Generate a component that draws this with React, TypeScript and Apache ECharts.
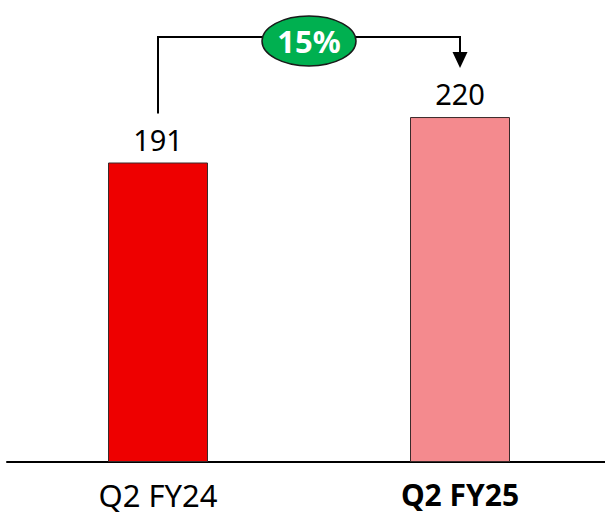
import React, { useEffect, useRef } from "react";
import * as echarts from "echarts";

const categories = ["Q2 FY24", "Q2 FY25"];
const values = [191, 220];
const growthLabel = "15%";

const FONT = "'Noto Sans', 'Open Sans', sans-serif";

export default function App() {
  const ref = useRef<HTMLDivElement>(null);
  useEffect(() => {
    if (!ref.current) return;
    const chart = echarts.init(ref.current, null, { renderer: "svg" });
    const axisText = { color: "#000", fontSize: 31, fontFamily: FONT };
    chart.setOption({
      animation: false,
      grid: { left: 7, width: 604, top: 70, bottom: 54, containLabel: false, outerBoundsMode: "none" },
      xAxis: {
        type: "category",
        data: [
          { value: categories[0], textStyle: { ...axisText, fontWeight: "normal" } },
          { value: categories[1], textStyle: { ...axisText, fontSize: 30, fontWeight: "bold" } },
        ],
        axisLine: { lineStyle: { color: "#000", width: 2 } },
        axisTick: { show: false },
        axisLabel: { ...axisText, margin: 17 },
      },
      yAxis: { type: "value", min: 0, max: 250, show: false, splitLine: { show: false } },
      series: [
        {
          type: "bar",
          barWidth: 100,
          data: [
            { value: values[0], itemStyle: { color: "#EE0000" } },
            { value: values[1], itemStyle: { color: "#F48A8E" } },
          ],
          itemStyle: { borderColor: "#3a2a2a", borderWidth: 1 },
          label: {
            show: true,
            position: "top",
            distance: 9,
            color: "#000",
            fontSize: 29,
            fontFamily: FONT,
          },
        },
      ],
    });
    const p0 = chart.convertToPixel({ seriesIndex: 0 }, [0, values[0]]) as number[];
    const p1 = chart.convertToPixel({ seriesIndex: 0 }, [1, values[1]]) as number[];
    const topY = 37;
    const x0 = p0[0];
    const x1 = p1[0];
    const startY = p0[1] - 49;
    const arrowTip = p1[1] - 49;
    const cx = (x0 + x1) / 2;
    chart.setOption({
      graphic: [
        {
          type: "polyline",
          shape: { points: [[x0, startY], [x0, topY], [x1, topY], [x1, arrowTip - 14]] },
          style: { stroke: "#000", lineWidth: 2, fill: null },
        },
        {
          type: "polygon",
          shape: { points: [[x1 - 7.5, arrowTip - 16], [x1 + 7.5, arrowTip - 16], [x1, arrowTip]] },
          style: { fill: "#000" },
        },
        {
          type: "ellipse",
          shape: { cx: cx, cy: 41, rx: 47, ry: 25 },
          style: { fill: "#00B050", stroke: "#1a1a1a", lineWidth: 1.5 },
        },
        {
          type: "text",
          x: cx,
          y: 41,
          style: {
            text: growthLabel,
            fill: "#fff",
            fontSize: 31,
            fontWeight: "bold",
            fontFamily: FONT,
            align: "center",
            verticalAlign: "middle",
          },
        },
      ],
    });
    return () => chart.dispose();
  }, []);
  return <div ref={ref} style={{ width: 605, height: 516, position: "absolute", left: 0, top: 0 }} />;
}
